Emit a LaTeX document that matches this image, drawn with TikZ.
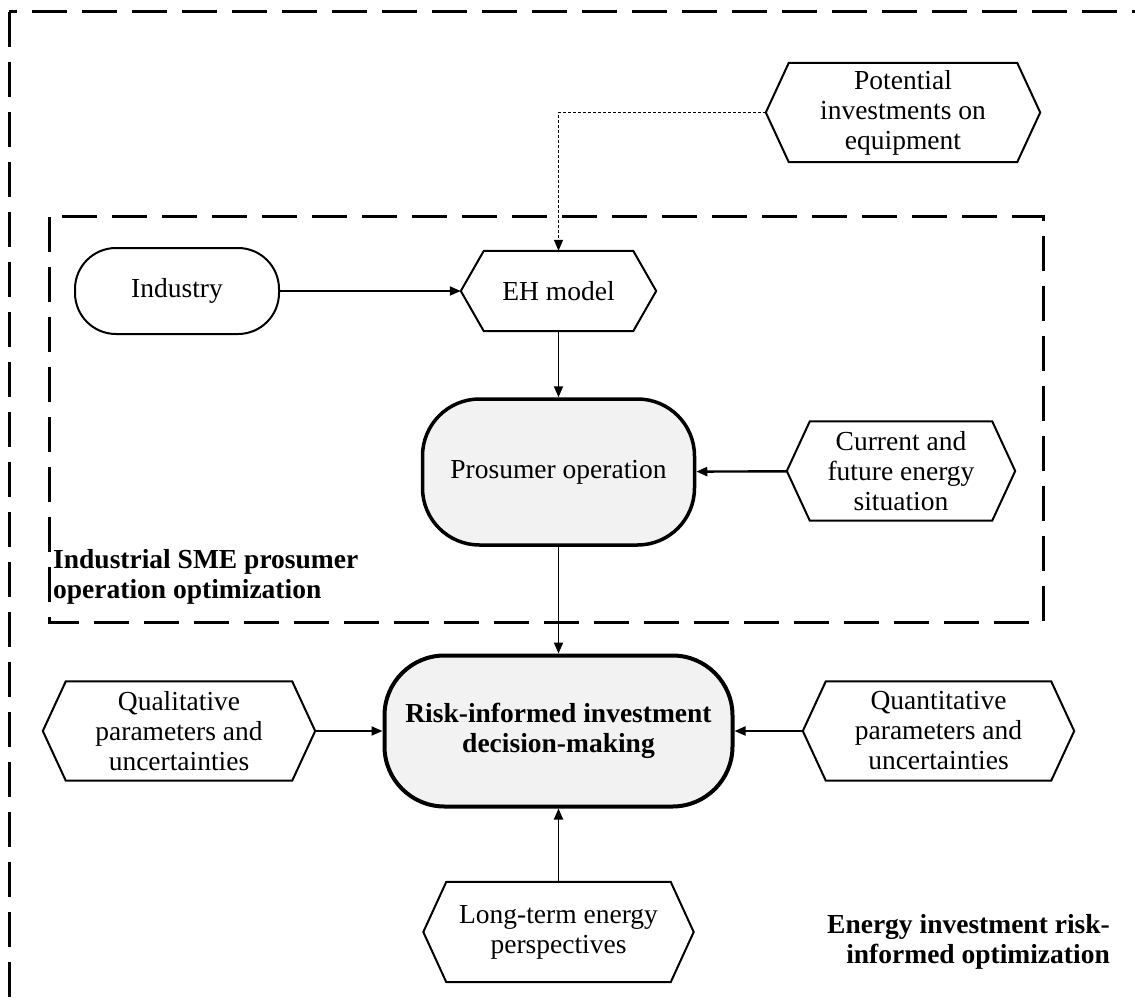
\documentclass[tikz,border=0pt]{standalone}
\usepackage{fontspec}
\setmainfont{Liberation Serif}
\usepackage{tikz}
\usetikzlibrary{positioning,arrows.meta}

\begin{document}
\begin{tikzpicture}[x=1pt,y=-1pt,
  every node/.style={font=\fontsize{27.5}{30}\selectfont, align=center, inner sep=0pt},
  hexbox/.style={minimum height=99pt},
  hexline/.style={line width=2pt, line join=miter},
  termbox/.style={draw, line width=2pt, rounded corners=41pt, minimum width=204pt, minimum height=86pt},
  mainbox/.style={draw, fill=gray!10, line width=3.5pt},
  flow/.style={-{Triangle[length=11pt,width=9pt]}, line width=1.8pt},
  region/.style={line width=3pt, dash pattern=on 35pt off 15pt},
  boldlabel/.style={font=\fontsize{27.5}{30}\selectfont\bfseries}
]
\useasboundingbox (0,0) rectangle (1135,1003);
\clip (0,0) rectangle (1135,1003);

\draw[region] (9,12) rectangle (1165,1035);
\draw[region] (49,217) rectangle (1043,622);

\node[hexbox, minimum width=274pt] (potinv) at (903,112.5) {Potential\\investments on\\equipment};
\node[hexbox, minimum width=195pt, minimum height=80pt] (ehmodel) at (558.5,291) {EH model};
\node[hexbox, minimum width=228pt] (current) at (901,471) {Current and\\future energy\\situation};
\node[hexbox, minimum width=272pt] (qual) at (179,731) {Qualitative\\parameters and\\uncertainties};
\node[hexbox, minimum width=271pt] (quant) at (938.5,731) {Quantitative\\parameters and\\uncertainties};
\node[hexbox, minimum width=270pt, minimum height=100pt] (longterm) at (558.5,932) {Long-term energy\\perspectives};

\foreach \n in {potinv,ehmodel,current,qual,quant,longterm}
  \draw[hexline] ([xshift=23pt]\n.north west) -- ([xshift=-23pt]\n.north east) -- (\n.east)
    -- ([xshift=-23pt]\n.south east) -- ([xshift=23pt]\n.south west) -- (\n.west) -- cycle;

\node[termbox] (industry) at (177,291) {Industry};
\node[mainbox, rounded corners=57pt, minimum width=272pt, minimum height=146pt] (prosumer) at (558.5,472) {Prosumer operation};
\node[mainbox, boldlabel, line width=4pt, rounded corners=60pt, minimum width=348pt, minimum height=151pt] (risk) at (558.5,731) {Risk-informed investment\\decision-making};

\draw[flow] (industry) -- (ehmodel);
\draw[flow, line width=1.4pt, dash pattern=on 3pt off 2pt] (potinv.west) -| (ehmodel.north);
\draw[flow] (ehmodel) -- (prosumer);
\draw[flow, line width=2.4pt] (current) -- (prosumer);
\draw[flow] (prosumer) -- (risk);
\draw[flow] (qual) -- (risk);
\draw[flow] (quant) -- (risk);
\draw[flow] (longterm) -- (risk);

\node[boldlabel, anchor=west, align=left] (smelabel) at (53,577) {Industrial SME prosumer\\operation optimization};
\node[boldlabel, anchor=east, align=right] (eirlabel) at (1110,942) {Energy investment risk-\\informed optimization};
\end{tikzpicture}
\end{document}
